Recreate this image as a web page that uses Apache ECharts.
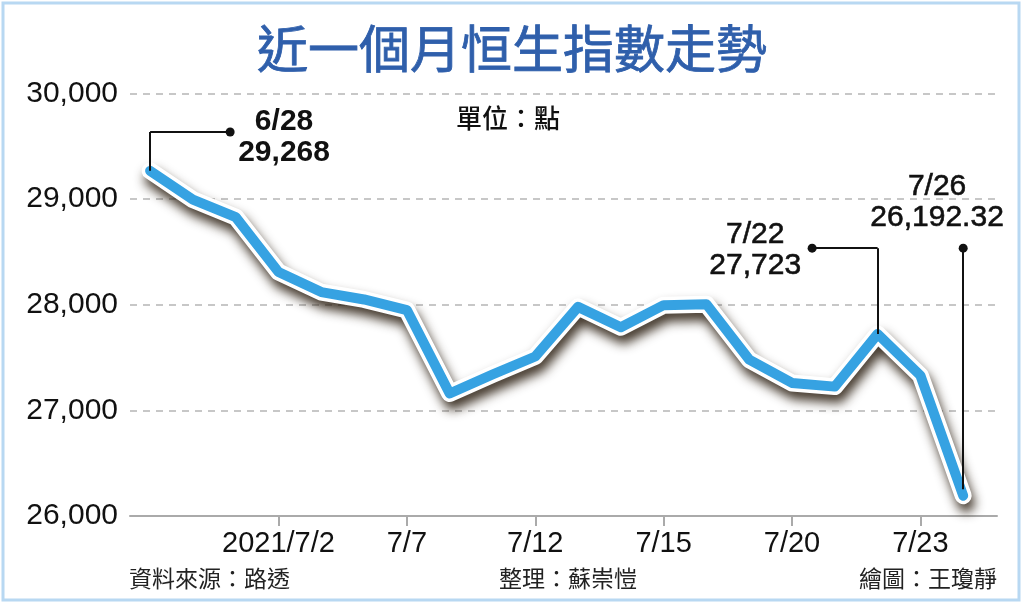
<!DOCTYPE html>
<html>
<head>
<meta charset="utf-8">
<script src="https://cdn.jsdelivr.net/npm/echarts@6/dist/echarts.min.js"></script>
<style>
html,body{margin:0;padding:0;background:#fff;}
#c{width:1024px;height:604px;}
</style>
</head>
<body>
<div id="c"></div>
<script>
// ---- data ----
const dates = ['6/28','6/29','6/30','7/2','7/5','7/6','7/7','7/8','7/9','7/12','7/13','7/14','7/15','7/16','7/19','7/20','7/21','7/22','7/23','7/26'];
const closes = [29268, 28995, 28830, 28310, 28120, 28050, 27950, 27160, 27340, 27510, 27980, 27787, 27996, 28005, 27480, 27260, 27225, 27723, 27330, 26192.32];
const tickIndex = [3, 6, 9, 12, 15, 18];
const tickLabels = ['2021/7/2', '7/7', '7/12', '7/15', '7/20', '7/23'];
const yTicks = [26000, 27000, 28000, 29000, 30000];
// annotations: [pointIndex, labelDate, labelValue]
const annotations = [
  [0, '6/28', '29,268'],
  [17, '7/22', '27,723'],
  [19, '7/26', '26,192.32']
];

const chart = echarts.init(document.getElementById('c'), null, {renderer: 'canvas'});
const lineData = closes.map((v, i) => [i, v]);
const numFont = '"Liberation Sans", Arial, sans-serif';
const cjkFont = '"Noto Sans CJK TC", "Noto Sans CJK SC", sans-serif';

// leader lines (in data space)
const a0 = annotations[0], a1 = annotations[1], a2 = annotations[2];
const leaderY0 = 29635, leaderY1 = 28536;
const markLines = [
  [{coord: [a0[0], closes[a0[0]]], symbol: 'none'}, {coord: [a0[0], leaderY0], symbol: 'none'}],
  [{coord: [a0[0], leaderY0], symbol: 'none'}, {coord: [1.87, leaderY0], symbol: 'circle'}],
  [{coord: [a1[0], closes[a1[0]]], symbol: 'none'}, {coord: [a1[0], leaderY1], symbol: 'none'}],
  [{coord: [a1[0], leaderY1], symbol: 'none'}, {coord: [15.47, leaderY1], symbol: 'circle'}],
  [{coord: [a2[0], closes[a2[0]] + 60], symbol: 'none'}, {coord: [a2[0], leaderY1], symbol: 'circle'}]
];

const labelPts = [
  {coord: [3.13, 29588], text: a0[1] + '\n' + a0[2], bold: true},
  {coord: [14.14, 28517], text: a1[1] + '\n' + a1[2], bold: false},
  {coord: [18.39, 28972], text: a2[1] + '\n' + a2[2], bold: false}
];

chart.setOption({
  animation: false,
  backgroundColor: '#ffffff',
  title: {
    text: '近一個月恒生指數走勢',
    left: 'center',
    top: 18,
    textStyle: {fontFamily: cjkFont, fontSize: 51, fontWeight: 'normal', color: '#2f5fab',
      textBorderColor: '#2f5fab', textBorderWidth: 0.8}
  },
  grid: {left: 130, right: 27, top: 93.5, bottom: 88, containLabel: false},
  xAxis: {
    type: 'value',
    min: -0.47,
    max: 19.79,
    splitLine: {show: false},
    axisLine: {show: true, onZero: false, lineStyle: {color: '#aaaaaa', width: 2}},
    axisTick: {show: true, customValues: tickIndex, length: 10, lineStyle: {color: '#aaaaaa', width: 2}},
    axisLabel: {
      show: true,
      customValues: tickIndex,
      formatter: v => tickLabels[tickIndex.indexOf(Math.round(v))] || '',
      fontFamily: numFont, fontSize: 29, color: '#111', margin: 13
    }
  },
  yAxis: {
    type: 'value',
    min: 26000, max: 30000, interval: 1000,
    axisLine: {show: false},
    axisTick: {show: false},
    splitLine: {show: true, lineStyle: {color: '#b5b5b5', type: [7, 6], width: 1.5}},
    axisLabel: {
      formatter: v => yTicks.indexOf(v) >= 0 ? v.toLocaleString('en-US') : '',
      fontFamily: numFont, fontSize: 30, color: '#111', margin: 12
    }
  },
  series: [
    {
      type: 'line', z: 1, data: [], symbol: 'none',
      markLine: {
        silent: true, animation: false,
        symbolSize: 9,
        label: {show: false},
        lineStyle: {color: '#111', width: 2, type: 'solid'},
        data: markLines
      },
      markPoint: {
        silent: true, animation: false,
        data: labelPts.map(p => ({
          coord: p.coord, symbol: 'circle', symbolSize: 0,
          label: {
            show: true, position: 'inside', formatter: p.text,
            fontFamily: numFont, fontSize: 30, lineHeight: 31,
            fontWeight: p.bold ? 'bold' : 'normal',
            textBorderColor: '#111', textBorderWidth: p.bold ? 0 : 0.6,
            color: '#111', align: 'center'
          }
        }))
      }
    },
    {
      type: 'line', z: 2, data: lineData, symbol: 'none',
      lineStyle: {
        color: '#ffffff', width: 17, join: 'round', cap: 'round',
        shadowColor: 'rgba(35,22,8,0.85)', shadowBlur: 11, shadowOffsetX: 3, shadowOffsetY: 8
      }
    },
    {
      type: 'line', z: 3, data: lineData, symbol: 'none',
      lineStyle: {color: '#36a2e2', width: 10, join: 'round', cap: 'round'}
    }
  ],
  graphic: [
    {type: 'rect', z: 100, silent: true, shape: {x: 3, y: 3, width: 1016, height: 597},
     style: {fill: 'none', stroke: '#b8d8f2', lineWidth: 3}},
    {type: 'text', z: 100, left: 456, top: 105,
     style: {text: '單位：點', font: '500 26px "Noto Sans CJK TC"', fill: '#111'}},
    {type: 'text', z: 100, left: 129, top: 567,
     style: {text: '資料來源：路透', font: '23px "Noto Sans CJK TC"', fill: '#222'}},
    {type: 'text', z: 100, left: 499, top: 567,
     style: {text: '整理：蘇崇愷', font: '23px "Noto Sans CJK TC"', fill: '#222'}},
    {type: 'text', z: 100, right: 27, top: 567,
     style: {text: '繪圖：王瓊靜', font: '23px "Noto Sans CJK TC"', fill: '#222'}}
  ]
});
</script>
</body>
</html>
